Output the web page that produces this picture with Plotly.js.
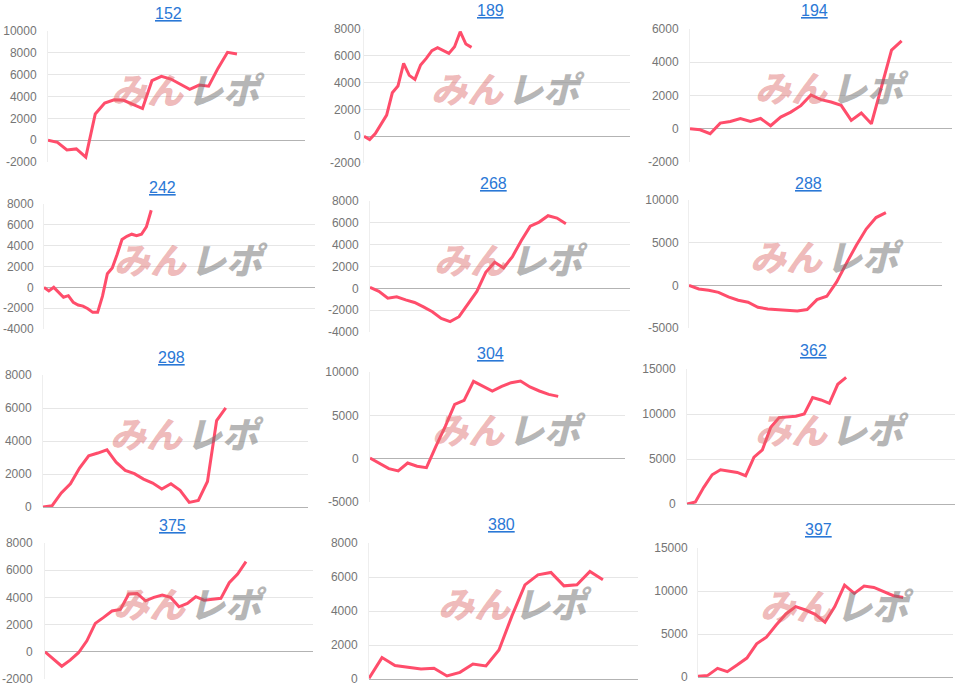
<!DOCTYPE html>
<html>
<head>
<meta charset="utf-8">
<script src="https://cdn.plot.ly/plotly-3.0.1.min.js"></script>
<style>html,body{margin:0;padding:0;background:#fff;}#chart{width:962px;height:690px;}</style>
</head>
<body>
<div id="chart"></div>
<script>
// ---- data ----
const panelTitles = ['152', '189', '194', '242', '268', '288', '298', '304', '362', '375', '380', '397'];

const series152 = [0, -200, -900, -800, -1550, 2400, 3400, 3700, 3650, 3300, 2900, 5450, 5850, 5600, 5150, 4650, 5050, 4950, 6600, 8050, 7900];
const series189 = [0, -250, 200, 900, 1570, 3240, 3740, 5440, 4540, 4240, 5310, 5810, 6380, 6610, 6380, 6180, 6680, 7800, 6880, 6630];
const series194 = [0, -60, -300, 340, 440, 620, 440, 620, 180, 700, 1000, 1390, 2030, 1750, 1610, 1410, 500, 950, 300, 2500, 4730, 5290];
const series242 = [0, -350, 0, -500, -950, -800, -1450, -1700, -1800, -2050, -2400, -2400, -850, 1300, 1850, 3150, 4600, 4900, 5100, 4950, 5100, 5800, 7400];
const series268 = [100, -280, -900, -780, -1060, -1300, -1700, -2150, -2750, -3050, -2600, -1400, -280, 1470, 2390, 1870, 2910, 4390, 5700, 6070, 6650, 6440, 5920];
const series288 = [0, -430, -580, -820, -1360, -1750, -1980, -2570, -2760, -2840, -2840, -3000, -2840, -1670, -1280, 400, 2600, 4700, 6600, 7940, 8520];
const series298 = [0, 80, 850, 1410, 2360, 3100, 3270, 3470, 2720, 2220, 2020, 1690, 1450, 1090, 1410, 1010, 280, 400, 1550, 5240, 6010];
const series304 = [80, -500, -1150, -1420, -500, -880, -1040, 1420, 3730, 6270, 6730, 8920, 8350, 7810, 8350, 8770, 8960, 8270, 7810, 7420, 7190];
const series362 = [0, 220, 1850, 3250, 3800, 3620, 3510, 3140, 5210, 6020, 8530, 9600, 9640, 9750, 10010, 11820, 11560, 11190, 13300, 14070];
const series375 = [0, -540, -1060, -610, -70, 810, 2090, 2530, 3000, 3120, 4250, 4290, 3750, 4000, 4170, 4000, 3310, 3560, 4050, 3800, 3850, 3930, 5080, 5720, 6630];
const series380 = [40, 1260, 790, 670, 590, 630, 180, 390, 880, 770, 1710, 3710, 5540, 6130, 6270, 5480, 5540, 6330, 5840];
const series397 = [80, 190, 1000, 620, 1390, 2200, 3860, 4630, 6050, 7330, 8180, 7790, 7290, 6360, 8180, 10680, 9720, 10570, 10410, 9910, 9450, 9250];

const ticks152 = [-2000, 0, 2000, 4000, 6000, 8000, 10000];
const ticks189 = [-2000, 0, 2000, 4000, 6000, 8000];
const ticks194 = [-2000, 0, 2000, 4000, 6000];
const ticks242 = [-4000, -2000, 0, 2000, 4000, 6000, 8000];
const ticks268 = [-4000, -2000, 0, 2000, 4000, 6000, 8000];
const ticks288 = [-5000, 0, 5000, 10000];
const ticks298 = [0, 2000, 4000, 6000, 8000];
const ticks304 = [-5000, 0, 5000, 10000];
const ticks362 = [0, 5000, 10000, 15000];
const ticks375 = [-2000, 0, 2000, 4000, 6000, 8000];
const ticks380 = [0, 2000, 4000, 6000, 8000];
const ticks397 = [0, 5000, 10000, 15000];

const allSeries = [series152, series189, series194, series242, series268, series288, series298, series304, series362, series375, series380, series397];
const allTicks = [ticks152, ticks189, ticks194, ticks242, ticks268, ticks288, ticks298, ticks304, ticks362, ticks375, ticks380, ticks397];

// ---- layout geometry (pixels) ----
const W = 962, H = 690;
// [left, right, top, bottom, xmax, titleX, titleY, labelGap]
const boxes = [
  [48, 305, 31, 162, 27.2, 168, 13, 8],
  [364, 630, 29, 163, 47, 491, 11, 0],
  [690, 952, 29, 162, 26, 814, 11, 8],
  [44, 315, 204, 329, 55.6, 162, 187, 7],
  [370, 630, 201, 332, 29.2, 493, 183, 8],
  [689, 942, 200, 328, 25.7, 808, 183, 7],
  [43, 308, 375, 507, 29, 171, 357, 8],
  [370, 625, 372, 502, 27.1, 490, 353, 8],
  [687, 955, 369, 504, 32, 813, 350, 8],
  [45, 313, 543, 679, 32, 172, 525, 9],
  [369, 638, 543, 679, 20.7, 501, 524, 8],
  [698, 953, 548, 677, 26.1, 818, 529, 7]
];

const FONT = 'Arial, "Liberation Sans", sans-serif';
const data = [];
const layout = {
  width: W, height: H,
  margin: {l: 0, r: 0, t: 0, b: 0},
  paper_bgcolor: '#ffffff', plot_bgcolor: '#ffffff',
  showlegend: false,
  font: {family: FONT, size: 12, color: '#757575'},
  annotations: []
};

allSeries.forEach((ys, i) => {
  const k = i === 0 ? '' : String(i + 1);
  const b = boxes[i];
  data.push({
    type: 'scatter', mode: 'lines',
    x: ys.map((_, j) => j), y: ys,
    xaxis: 'x' + k, yaxis: 'y' + k,
    line: {color: '#ff4d6b', width: 3, shape: 'linear'},
    hoverinfo: 'y'
  });
  const ticks = allTicks[i];
  layout['xaxis' + k] = {
    domain: [b[0] / W, b[1] / W],
    range: [0, b[4]],
    anchor: 'y' + k,
    showgrid: false, zeroline: false, showline: false,
    showticklabels: false, ticks: '', fixedrange: true
  };
  layout['yaxis' + k] = {
    domain: [1 - b[3] / H, 1 - b[2] / H],
    range: [ticks[0], ticks[ticks.length - 1]],
    anchor: 'x' + k,
    tickmode: 'array', tickvals: ticks, ticktext: ticks.map(v => String(v)),
    showgrid: true, gridcolor: '#e6e6e6', gridwidth: 1,
    zeroline: true, zerolinecolor: '#b3b3b3', zerolinewidth: 1,
    showline: true, linecolor: '#eeeeee', linewidth: 1,
    ticks: '', ticklabelstandoff: b[7],
    tickfont: {family: FONT, size: 12, color: '#757575'},
    fixedrange: true
  };
  // title
  layout.annotations.push({
    xref: 'paper', yref: 'paper', x: b[5] / W, y: 1 - b[6] / H,
    xanchor: 'center', yanchor: 'middle', showarrow: false,
    text: panelTitles[i],
    font: {family: FONT, size: 16, color: '#2a78d6', lineposition: 'under'}
  });
  // watermark
  const cx = (b[0] + b[1]) / 2 + 10, cy = (b[2] + b[3]) / 2 - 9;
  layout.annotations.push({
    xref: 'paper', yref: 'paper', x: (cx - 39) / W, y: 1 - cy / H,
    xanchor: 'center', yanchor: 'middle', showarrow: false,
    text: 'みん',
    font: {family: '"Noto Sans CJK JP", sans-serif', size: 36, weight: 900, style: 'italic', color: 'rgba(220,100,100,0.45)'}
  });
  layout.annotations.push({
    xref: 'paper', yref: 'paper', x: (cx + 39) / W, y: 1 - cy / H,
    xanchor: 'center', yanchor: 'middle', showarrow: false,
    text: 'レポ',
    font: {family: '"Noto Sans CJK JP", sans-serif', size: 36, weight: 900, style: 'italic', color: 'rgba(110,110,110,0.5)'}
  });
});

Plotly.newPlot('chart', data, layout, {staticPlot: true, displayModeBar: false});
</script>
</body>
</html>
